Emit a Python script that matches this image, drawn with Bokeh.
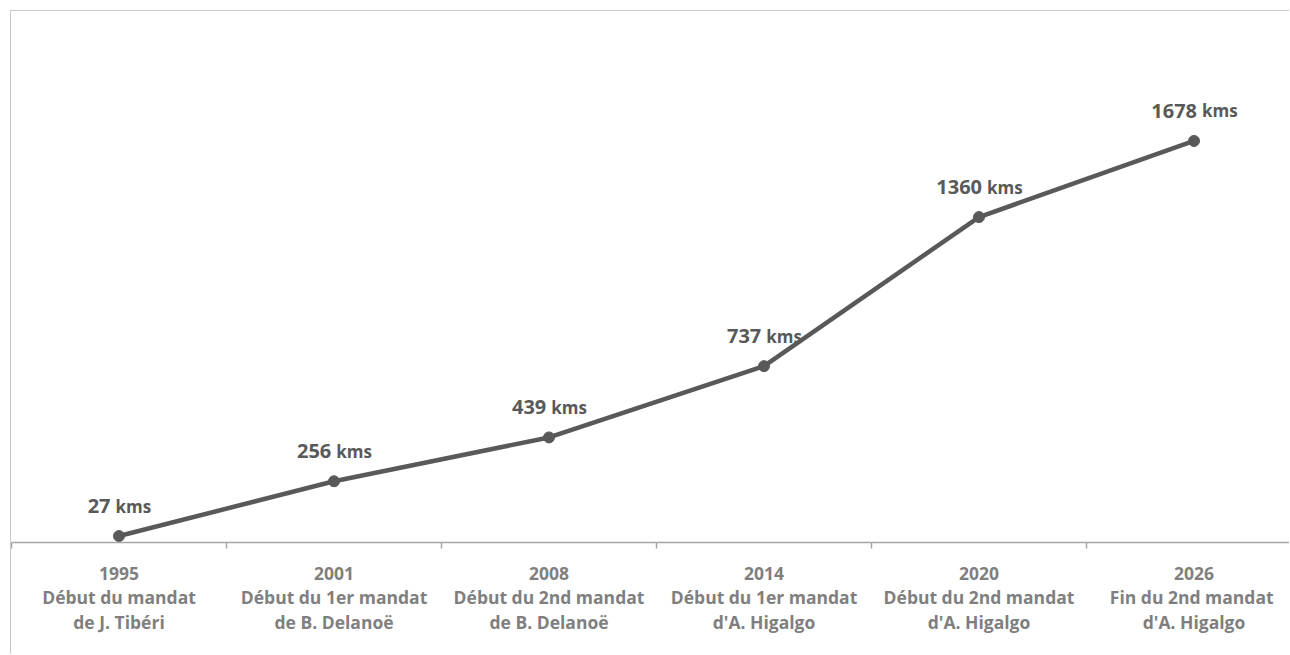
from bokeh.plotting import figure
from bokeh.models import ColumnDataSource, FixedTicker, Range1d
from bokeh.embed import file_html
from bokeh.resources import INLINE
from bokeh.core.properties import value

# ---- data ----
years = ["1995", "2001", "2008", "2014", "2020", "2026"]
line2 = ["Début du mandat", "Début du 1er mandat", "Début du 2nd mandat",
         "Début du 1er mandat", "Début du 2nd mandat", "Fin du 2nd  mandat"]
line3 = ["de J. Tibéri", "de B. Delanoë", "de B. Delanoë",
         "d'A. Higalgo", "d'A. Higalgo", "d'A. Higalgo"]
kms = [27, 256, 439, 737, 1360, 1678]

# ---- styling ----
LINE_COL = "#595959"
AXIS_TXT = "#7f7f7f"
FONT = "Open Sans"
CAT_W = 215.0
W, H = 1279, 644
TOP, BOTTOM = 20, 113
PX_PER_UNIT = 0.2393

xs = [i + 0.5 for i in range(len(years))]
num_txt = [str(v) for v in kms]
digit_w, kms_w, gap = 11.5, 35.0, 5.0
num_off, kms_off = [], []
for t in num_txt:
    nw = len(t) * digit_w
    total = nw + gap + kms_w
    left = -total / 2.0
    num_off.append(left + nw)
    kms_off.append(left + nw + gap)

src = ColumnDataSource(dict(x=xs, y=kms, num=num_txt, unit=["kms"] * len(kms),
                            num_off=num_off, kms_off=kms_off))

p = figure(width=W, height=H, output_backend="svg", toolbar_location=None,
           x_range=Range1d(0, W / CAT_W),
           y_range=Range1d(0, (H - TOP - BOTTOM) / PX_PER_UNIT),
           min_border_left=0, min_border_right=0, min_border_top=TOP,
           min_border_bottom=BOTTOM, y_axis_location=None,
           background_fill_color="white", border_fill_color="white",
           styles={"margin-left": "10px", "margin-top": "10px",
                   "border-top": "1px solid #c8c8c8",
                   "border-left": "1px solid #c8c8c8"})
p.outline_line_color = None
p.grid.visible = False

p.line("x", "y", source=src, line_color=LINE_COL, line_width=4.5)
p.scatter("x", "y", source=src, size=11, fill_color=LINE_COL, line_color=LINE_COL)

p.text("x", "y", text="num", source=src, x_offset="num_off", y_offset=-30,
       text_align="right", text_baseline="alphabetic", text_color=LINE_COL,
       text_font=value(FONT), text_font_style="bold", text_font_size="20px")
p.text("x", "y", text="unit", source=src, x_offset="kms_off", y_offset=-30,
       text_align="left", text_baseline="alphabetic", text_color=LINE_COL,
       text_font=value(FONT), text_font_style="bold", text_font_size="17px")

ax = p.xaxis[0]
ax.ticker = FixedTicker(ticks=xs, minor_ticks=list(range(len(years) + 1)))
ax.major_label_overrides = {x: f"{y}\n{a}\n{b}" for x, y, a, b in zip(xs, years, line2, line3)}
ax.major_tick_line_color = None
ax.minor_tick_line_color = "#a6a6a6"
ax.minor_tick_line_width = 1.5
ax.minor_tick_out = 6
ax.minor_tick_in = 0
ax.axis_line_color = "#a6a6a6"
ax.axis_line_width = 1.5
ax.major_label_text_color = AXIS_TXT
ax.major_label_text_font = FONT
ax.major_label_text_font_style = "bold"
ax.major_label_text_font_size = "17.5px"
ax.major_label_text_line_height = 1.03
ax.major_label_standoff = 12

open("out.html", "w").write(file_html(p, INLINE))
